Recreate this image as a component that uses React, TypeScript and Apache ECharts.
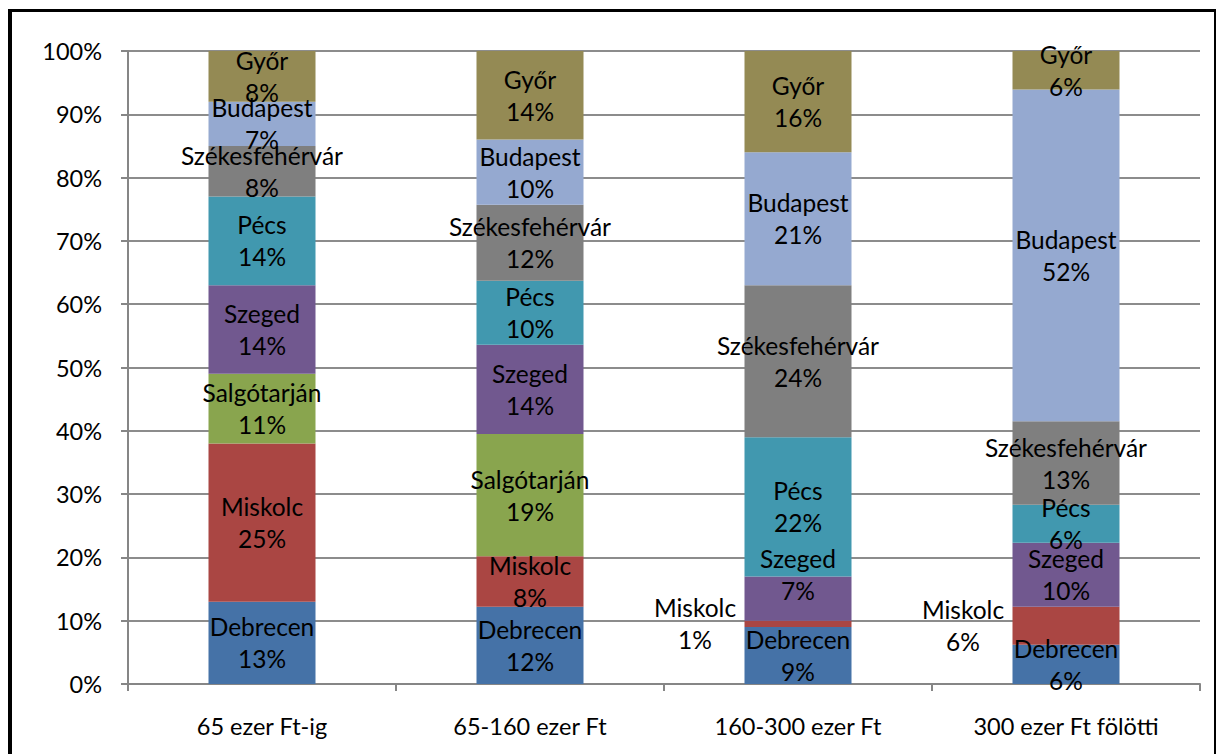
import React, { useEffect, useRef } from "react";
import * as echarts from "echarts";

const categories = ["65 ezer Ft-ig", "65-160 ezer Ft", "160-300 ezer Ft", "300 ezer Ft fölötti"];
const seriesNames = ["Debrecen", "Miskolc", "Salgótarján", "Szeged", "Pécs", "Székesfehérvár", "Budapest", "Győr"];
const debrecen = [13, 12.2, 9, 6.2];
const miskolc = [25, 8, 1, 6];
const salgotarjan = [11, 19.3, 0, 0];
const szeged = [14, 14.1, 7, 10.1];
const pecs = [14, 10.1, 22, 6];
const szekesfehervar = [8, 12, 24, 13.2];
const budapest = [7, 10.3, 21, 52.4];
const gyor = [8, 14, 16, 6.1];
const yTicks = [0, 10, 20, 30, 40, 50, 60, 70, 80, 90, 100];
const colors = ["#4572A7", "#AA4643", "#89A54E", "#71588F", "#4198AF", "#7F7F7F", "#95A9D0", "#948A54"];

const allValues = [debrecen, miskolc, salgotarjan, szeged, pecs, szekesfehervar, budapest, gyor];
// label offsets for individual points: [series index, category index, dx, dy]
const labelOffsets = [
  [1, 2, -103, 0],
  [1, 3, -103, 0],
  [3, 2, 0, -24],
];

export default function App() {
  const ref = useRef<HTMLDivElement>(null);
  useEffect(() => {
    const chart = echarts.init(ref.current!, null, { renderer: "svg" });
    const font = "Lato";
    const series = seriesNames.map((name, si) => ({
      name,
      type: "bar",
      stack: "total",
      barWidth: 107,
      itemStyle: { color: colors[si] },
      label: {
        show: true,
        position: "inside",
        color: "#000",
        fontFamily: font,
        fontSize: 24.5,
        lineHeight: 32,
        align: "center",
        formatter: (p: any) => (p.value > 0 ? `${name}\n${Math.round(p.value)}%` : ""),
      },
      data: allValues[si].map((v, ci) => {
        const o = labelOffsets.find(([s, c]) => s === si && c === ci);
        if (o) {
          return { value: v, label: { offset: [o[2], o[3]] } };
        }
        return v;
      }),
    }));
    chart.setOption({
      animation: false,
      backgroundColor: "#fff",
      grid: { left: 128, right: 17, top: 51, bottom: 70, containLabel: false },
      xAxis: {
        type: "category",
        data: categories,
        axisLine: { lineStyle: { color: "#868686", width: 2 } },
        axisTick: { show: true, length: 7, lineStyle: { color: "#868686", width: 2 } },
        axisLabel: { color: "#000", fontFamily: font, fontSize: 23.5, margin: 30 },
      },
      yAxis: {
        type: "value",
        min: yTicks[0],
        max: yTicks[yTicks.length - 1],
        interval: 10,
        axisLine: { show: true, lineStyle: { color: "#868686", width: 2 } },
        axisTick: { show: true, length: 7, lineStyle: { color: "#868686", width: 2 } },
        splitLine: { lineStyle: { color: "#8C8C8C", width: 2 } },
        axisLabel: { color: "#000", fontFamily: font, fontSize: 23.5, margin: 26, formatter: "{value}%" },
      },
      graphic: [
        { type: "line", shape: { x1: 10, y1: 9, x2: 10, y2: 760 }, style: { stroke: "#000", lineWidth: 4 } },
        { type: "line", shape: { x1: 8, y1: 10.5, x2: 1216, y2: 10.5 }, style: { stroke: "#000", lineWidth: 3 } },
        { type: "line", shape: { x1: 1215, y1: 9, x2: 1215, y2: 760 }, style: { stroke: "#000", lineWidth: 2 } },
      ],
      series,
    });
    return () => chart.dispose();
  }, []);
  return <div ref={ref} style={{ position: "absolute", left: 0, top: 0, width: 1217, height: 754 }} />;
}
